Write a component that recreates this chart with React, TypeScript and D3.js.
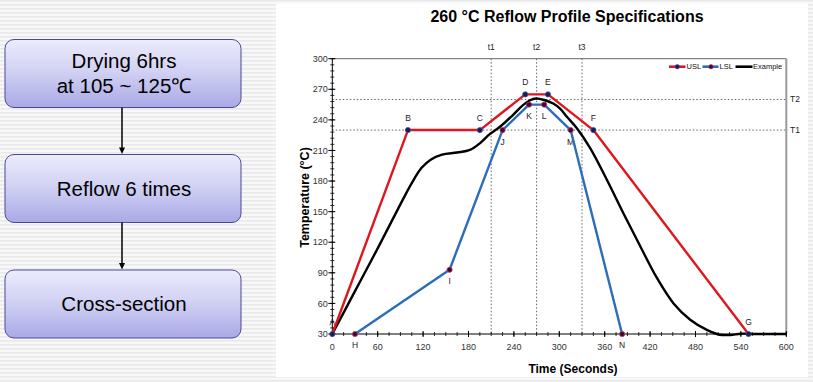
import React from "react";
import * as d3 from "d3";

const FONT = "'Liberation Sans', Arial, Helvetica, sans-serif";

// ---- data ----
const uslTime = [0, 100, 195, 255, 285, 345, 550];
const uslTemp = [30, 230, 230, 265, 265, 230, 30];
const uslLabels = ["A", "B", "C", "D", "E", "F", "G"];

const lslTime = [30, 155, 225, 260, 280, 315, 383];
const lslTemp = [30, 93, 230, 255, 255, 230, 30];
const lslLabels = ["H", "I", "J", "K", "L", "M", "N"];

const exTime = [0, 30, 60, 85, 105, 118, 130, 145, 165, 182, 195, 208, 222, 239, 252, 262, 269, 280, 292, 301, 310, 323, 341, 363, 385, 407, 429, 451, 473, 495, 512, 526, 540, 560, 600];
const exTemp = [30, 72, 114, 150, 178, 193, 201, 206, 208, 210.5, 217, 226, 233.5, 245, 254.5, 259.5, 261, 259.5, 256, 251, 243, 232, 212, 181, 148, 116, 85, 60, 44, 34, 29.3, 29, 30.3, 30, 30];

const timeLines = [210, 270, 330];
const timeLineLabels = ["t1", "t2", "t3"];
const tempLines = [230, 260];
const tempLineLabels = ["T1", "T2"];

const xTicks = [0, 60, 120, 180, 240, 300, 360, 420, 480, 540, 600];
const yTicks = [30, 60, 90, 120, 150, 180, 210, 240, 270, 300];

const legendNames = ["USL", "LSL", "Example"];

const steps = [["Drying 6hrs", "at 105 ~ 125\u2103"], ["Reflow 6 times"], ["Cross-section"]];

// ---- layout ----
const W = 813;
const H = 382;
const PL = 332.3, PR = 786.3, PT = 58.7, PB = 334;

const RED = "#e0161e";
const BLUE = "#2b6cbd";
const BLACK = "#000";

export default function App() {
  const x = d3.scaleLinear().domain([0, 600]).range([PL, PR]);
  const y = d3.scaleLinear().domain([30, 300]).range([PB, PT]);

  const lineGen = d3
    .line<[number, number]>()
    .x((d) => x(d[0]))
    .y((d) => y(d[1]));
  const smoothGen = d3
    .line<[number, number]>()
    .x((d) => x(d[0]))
    .y((d) => y(d[1]))
    .curve(d3.curveCatmullRom.alpha(0.5));

  const usl: [number, number][] = uslTime.map((t, i) => [t, uslTemp[i]]);
  const lsl: [number, number][] = lslTime.map((t, i) => [t, lslTemp[i]]);
  const ex: [number, number][] = exTime.map((t, i) => [t, exTemp[i]]);

  const xMinor = d3.range(0, 601, 15);
  const yMinor = d3.range(30, 301, 6);

  // flowchart geometry
  const boxX = 5, boxW = 236, boxH = 68;
  const boxYs = [39.5, 154.5, 270];
  const arrowX = 122;

  return (
    <svg
      width={W}
      height={H}
      style={{ position: "absolute", left: 0, top: 0 }}
      fontFamily={FONT}
    >
      <defs>
        <pattern id="stripes" width="4" height="4" patternUnits="userSpaceOnUse">
          <rect width="4" height="4" fill="#f8f8f8" />
          <rect width="4" height="1.6" fill="#e9e9ec" />
        </pattern>
        <linearGradient id="boxGrad" x1="0" y1="0" x2="0" y2="1">
          <stop offset="0" stopColor="#ececfc" />
          <stop offset="0.5" stopColor="#cfcff3" />
          <stop offset="1" stopColor="#a9a9e6" />
        </linearGradient>
      </defs>

      {/* background */}
      <rect x={0} y={0} width={W} height={H} fill="url(#stripes)" />
      <rect x={276} y={4} width={532} height={373} fill="#fff" />

      {/* flowchart */}
      {boxYs.map((by, i) => (
        <g key={"box" + i}>
          <rect
            x={boxX}
            y={by}
            width={boxW}
            height={boxH}
            rx={9}
            ry={9}
            fill="url(#boxGrad)"
            stroke="#4a4a96"
            strokeWidth={1}
          />
          {steps[i].map((line, j) => {
            const n = steps[i].length;
            const cy = by + boxH / 2 + (j - (n - 1) / 2) * 25;
            return (
              <text
                key={j}
                x={boxX + boxW / 2 + 1}
                y={cy}
                dy="0.35em"
                textAnchor="middle"
                fontSize={20.5}
                fill="#000"
              >
                {line}
              </text>
            );
          })}
        </g>
      ))}
      {[0, 1].map((i) => {
        const y0 = boxYs[i] + boxH;
        const y1 = boxYs[i + 1];
        return (
          <g key={"arr" + i}>
            <line x1={arrowX} x2={arrowX} y1={y0} y2={y1 - 6} stroke="#000" strokeWidth={1.5} />
            <path
              d={`M${arrowX - 3},${y1 - 7} L${arrowX + 3},${y1 - 7} L${arrowX},${y1 - 0.5} Z`}
              fill="#000"
            />
          </g>
        );
      })}

      {/* title */}
      <text x={567} y={22} textAnchor="middle" fontSize={16} fontWeight="bold" fill="#000">
        260 °C Reflow Profile Specifications
      </text>

      {/* reference lines */}
      {timeLines.map((t, i) => (
        <g key={"tl" + i}>
          <line
            x1={x(t)}
            x2={x(t)}
            y1={PT}
            y2={PB}
            stroke="#666"
            strokeWidth={1}
            strokeDasharray="1.5,2"
          />
          <text x={x(t)} y={47} dy="0.35em" textAnchor="middle" fontSize={8.5} fill="#222">
            {timeLineLabels[i]}
          </text>
        </g>
      ))}
      {tempLines.map((T, i) => (
        <g key={"Tl" + i}>
          <line
            x1={PL}
            x2={PR}
            y1={y(T)}
            y2={y(T)}
            stroke="#666"
            strokeWidth={1}
            strokeDasharray="1.5,2"
          />
          <text x={790} y={y(T)} dy="0.35em" textAnchor="start" fontSize={8.5} fill="#222">
            {tempLineLabels[i]}
          </text>
        </g>
      ))}

      {/* frame */}
      <line x1={PL} x2={PR} y1={PT} y2={PT} stroke="#666" strokeWidth={1} />
      <line x1={PR} x2={PR} y1={PT} y2={PB} stroke="#9a9a9a" strokeWidth={2} />

      {/* point labels (drawn under lines) */}
      {usl.map((d, i) => (
        <text
          key={"ul" + i}
          x={x(d[0])}
          y={y(d[1]) - 12}
          dy="0.35em"
          textAnchor="middle"
          fontSize={8.5}
          fill="#222"
        >
          {uslLabels[i]}
        </text>
      ))}
      {lsl.map((d, i) => (
        <text
          key={"ll" + i}
          x={x(d[0])}
          y={y(d[1]) + 11.5}
          dy="0.35em"
          textAnchor="middle"
          fontSize={8.5}
          fill="#222"
        >
          {lslLabels[i]}
        </text>
      ))}

      {/* axes */}
      <line x1={PL} x2={PL} y1={PT} y2={PB} stroke="#000" strokeWidth={1} />
      <line x1={PL} x2={PR} y1={PB} y2={PB} stroke="#000" strokeWidth={1} />
      {yMinor.map((v) => (
        <line key={"ym" + v} x1={PL - 2} x2={PL + 2} y1={y(v)} y2={y(v)} stroke="#000" strokeWidth={0.8} />
      ))}
      {yTicks.map((v) => (
        <g key={"yt" + v}>
          <line x1={PL - 4} x2={PL + 3} y1={y(v)} y2={y(v)} stroke="#000" strokeWidth={1} />
          <text x={PL - 4.5} y={y(v)} dy="0.35em" textAnchor="end" fontSize={9} fill="#333">
            {v}
          </text>
        </g>
      ))}
      {xMinor.map((v) => (
        <line key={"xm" + v} x1={x(v)} x2={x(v)} y1={PB - 2} y2={PB + 2} stroke="#000" strokeWidth={0.8} />
      ))}
      {xTicks.map((v) => (
        <g key={"xt" + v}>
          <line x1={x(v)} x2={x(v)} y1={PB - 3} y2={PB + 3} stroke="#000" strokeWidth={1} />
          <text x={x(v)} y={346.5} dy="0.35em" textAnchor="middle" fontSize={9} fill="#333">
            {v}
          </text>
        </g>
      ))}

      {/* axis titles */}
      <text x={573} y={368.5} dy="0.35em" textAnchor="middle" fontSize={12} fontWeight="bold" fill="#000">
        Time (Seconds)
      </text>
      <text
        transform={`translate(304.5,197.5) rotate(-90)`}
        dy="0.35em"
        textAnchor="middle"
        fontSize={12.5}
        fontWeight="bold"
        fill="#000"
      >
        Temperature (°C)
      </text>

      {/* series */}
      <path d={smoothGen(ex) || ""} fill="none" stroke={BLACK} strokeWidth={2.4} strokeLinejoin="round" />
      <path d={lineGen(usl) || ""} fill="none" stroke={RED} strokeWidth={2.4} strokeLinejoin="round" />
      <path d={lineGen(lsl) || ""} fill="none" stroke={BLUE} strokeWidth={2.4} strokeLinejoin="round" />
      {usl.map((d, i) => (
        <circle key={"um" + i} cx={x(d[0])} cy={y(d[1])} r={2.6} fill="#1b1b55" stroke="#3a56a8" strokeWidth={0.8} />
      ))}
      {lsl.map((d, i) => (
        <circle key={"lm" + i} cx={x(d[0])} cy={y(d[1])} r={2.6} fill="#3a0a28" stroke="#c8306e" strokeWidth={0.8} />
      ))}

      {/* legend */}
      <g>
        <line x1={669} x2={685.5} y1={66.7} y2={66.7} stroke={RED} strokeWidth={2.6} />
        <circle cx={677.3} cy={66.7} r={2.2} fill="#1b1b55" stroke="#3a56a8" strokeWidth={0.6} />
        <text x={686.5} y={66.7} dy="0.35em" fontSize={7.5} fill="#111">
          {legendNames[0]}
        </text>
        <line x1={702.5} x2={718.5} y1={66.7} y2={66.7} stroke={BLUE} strokeWidth={2.6} />
        <circle cx={711} cy={66.7} r={2.2} fill="#3a0a28" stroke="#c8306e" strokeWidth={0.6} />
        <text x={719.5} y={66.7} dy="0.35em" fontSize={7.5} fill="#111">
          {legendNames[1]}
        </text>
        <line x1={735.5} x2={752.5} y1={66.7} y2={66.7} stroke={BLACK} strokeWidth={2.6} />
        <text x={753} y={66.7} dy="0.35em" fontSize={7.5} fill="#111">
          {legendNames[2]}
        </text>
      </g>
    </svg>
  );
}
